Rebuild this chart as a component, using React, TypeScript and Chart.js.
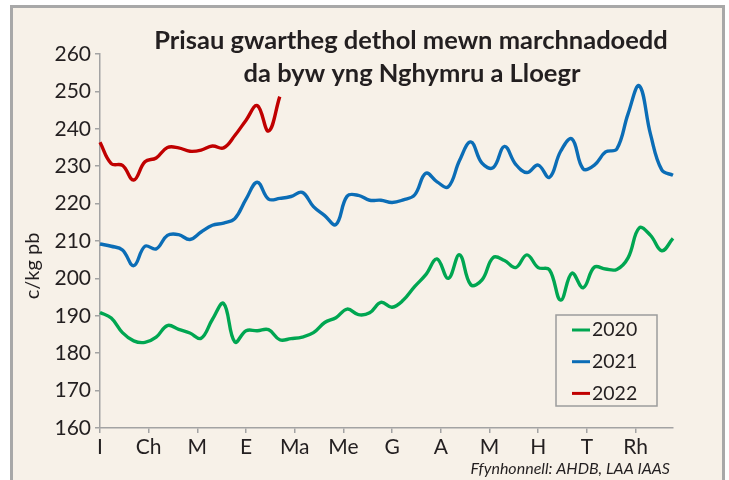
import React, { useEffect, useRef } from 'react';
import { Chart, registerables } from 'chart.js';

Chart.register(...registerables);

const monthLabels = ['I', 'Ch', 'M', 'E', 'Ma', 'Me', 'G', 'A', 'M', 'H', 'T', 'Rh'];
const weeksPerYear = 52;
const yMin = 160;
const yMax = 260;

const series2020 = [
  190.9, 189.4, 185.5, 183.3, 182.9, 184.3, 187.4, 186.4, 185.4, 184.0, 189.0, 193.3, 183.0,
  186.0, 186.0, 186.3, 183.6, 183.9, 184.3, 185.5, 188.2, 189.5, 191.8, 190.3, 190.8, 193.6,
  192.3, 194.2, 197.8, 201.0, 205.2, 200.0, 206.3, 198.3, 199.6, 205.6, 204.8, 202.9, 206.3,
  202.9, 202.3, 194.2, 201.4, 197.5, 203.0, 202.5, 202.4, 205.5, 213.5, 211.5, 207.4, 210.7,
];
const series2021 = [
  209.2, 208.6, 207.6, 203.4, 208.6, 207.9, 211.5, 211.7, 210.4, 212.4, 214.2, 214.8, 216.0,
  221.2, 225.7, 221.2, 221.4, 221.9, 223.0, 219.2, 216.8, 214.4, 222.0, 222.2, 220.9, 220.9,
  220.3, 221.0, 222.3, 228.1, 225.8, 224.5, 231.5, 236.5, 230.8, 229.6, 235.3, 230.5, 228.3,
  230.3, 227.0, 234.0, 237.3, 229.3, 230.3, 233.8, 234.6, 244.0, 251.5, 238.5, 229.0, 227.6,
];
const series2022 = [
  236.4, 230.7, 230.2, 226.3, 231.2, 232.2, 235.0, 234.9, 234.0, 234.3, 235.4, 234.9, 238.2,
  242.3, 246.2, 239.4, 248.6,
];

const seriesLabels = ['2020', '2021', '2022'];
const seriesColors = ['#00a651', '#0b6db6', '#c00000'];

const titleLines = ['Prisau gwartheg dethol mewn marchnadoedd', 'da byw yng Nghymru a Lloegr'];
const yAxisTitle = 'c/kg pb';
const sourceText = 'Ffynhonnell: AHDB, LAA IAAS';

const FONT = 'Lato, "Noto Sans", sans-serif';
const TEXT = '#231f20';
const AXIS = '#a3a3a3';
const BG = '#f7f1e8';

const decorPlugin = {
  id: 'decor',
  beforeDraw(chart: any) {
    const { ctx, width, height } = chart;
    ctx.save();
    ctx.fillStyle = '#ffffff';
    ctx.fillRect(0, 0, width, height);
    ctx.fillStyle = BG;
    ctx.fillRect(11.5, 6.5, 712, height + 10);
    ctx.strokeStyle = '#a8a8a8';
    ctx.lineWidth = 3;
    ctx.strokeRect(11.5, 6.5, 712, height + 10);
    ctx.restore();
  },
  afterDraw(chart: any) {
    const { ctx } = chart;
    ctx.save();
    // title
    ctx.fillStyle = TEXT;
    ctx.textAlign = 'center';
    ctx.textBaseline = 'alphabetic';
    ctx.font = `bold 25.5px ${FONT}`;
    ctx.fillText(titleLines[0], 411, 49);
    ctx.fillText(titleLines[1], 412, 82);
    // y title
    ctx.save();
    ctx.translate(33, 266);
    ctx.rotate(-Math.PI / 2);
    ctx.textAlign = 'center';
    ctx.textBaseline = 'middle';
    ctx.font = `20px ${FONT}`;
    ctx.fillText(yAxisTitle, 0, 0);
    ctx.restore();
    // source
    ctx.textAlign = 'right';
    ctx.textBaseline = 'alphabetic';
    ctx.font = `italic 16px ${FONT}`;
    ctx.fillText(sourceText, 670, 474);
    // legend
    ctx.strokeStyle = '#9c9c9c';
    ctx.lineWidth = 1.5;
    ctx.strokeRect(556, 315, 101, 91);
    chart.data.datasets.forEach((ds: any, i: number) => {
      const y = 330 + i * 31.7;
      ctx.strokeStyle = ds.borderColor;
      ctx.lineWidth = 3;
      ctx.beginPath();
      ctx.moveTo(572, y);
      ctx.lineTo(590, y);
      ctx.stroke();
      ctx.fillStyle = TEXT;
      ctx.textAlign = 'left';
      ctx.textBaseline = 'middle';
      ctx.font = `19.5px ${FONT}`;
      ctx.fillText(ds.label, 592, y);
    });
    ctx.restore();
  },
};

export default function App() {
  const ref = useRef<HTMLCanvasElement>(null);
  useEffect(() => {
    if (!ref.current) return;
    const all = [series2020, series2021, series2022];
    const chart = new Chart(ref.current, {
      type: 'line',
      data: {
        datasets: all.map((s, i) => ({
          label: seriesLabels[i],
          data: s.map((v, w) => ({ x: w, y: v })),
          borderColor: seriesColors[i],
          backgroundColor: seriesColors[i],
          borderWidth: 3.4,
          pointRadius: 0,
          tension: 0.4,
          fill: false,
          clip: false as any,
        })),
      },
      options: {
        responsive: false,
        animation: false,
        events: [],
        layout: { padding: { top: 54, right: 56, left: 0, bottom: 0 } },
        plugins: { legend: { display: false }, tooltip: { enabled: false }, title: { display: false } },
        scales: {
          x: {
            type: 'linear',
            min: 0,
            max: weeksPerYear - 1,
            afterBuildTicks: (s: any) => {
              s.ticks = monthLabels.map((_, i) => ({ value: (i * weeksPerYear) / 12 }));
            },
            afterFit: (s: any) => {
              s.height = 52;
            },
            ticks: {
              callback: (_v: any, i: number) => monthLabels[i],
              autoSkip: false,
              maxRotation: 0,
              padding: 2,
              color: TEXT,
              font: { family: FONT, size: 21 },
            },
            grid: { drawOnChartArea: false, drawTicks: true, tickLength: 5, color: AXIS, lineWidth: 1.5 },
            border: { display: true, color: AXIS, width: 1.5 },
          },
          y: {
            min: yMin,
            max: yMax,
            afterFit: (s: any) => {
              s.width = 100;
            },
            ticks: {
              stepSize: 5,
              callback: (v: any) => (Number(v) % 10 === 0 ? String(v) : ''),
              padding: 4,
              color: TEXT,
              font: { family: FONT, size: 21 },
            },
            grid: { drawOnChartArea: false, drawTicks: true, tickLength: 5, color: AXIS, lineWidth: 1.5 },
            border: { display: true, color: AXIS, width: 1.5 },
          },
        },
      },
      plugins: [decorPlugin],
    });
    return () => chart.destroy();
  }, []);
  return (
    <div style={{ position: 'absolute', left: 0, top: 0, width: 729, height: 480, overflow: 'hidden' }}>
      <canvas ref={ref} width={729} height={480} style={{ display: 'block', width: 729, height: 480 }} />
    </div>
  );
}
